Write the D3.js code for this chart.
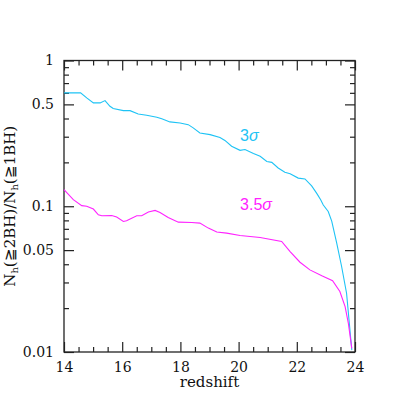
<!DOCTYPE html>
<html>
<head>
<meta charset="utf-8">
<script src="https://cdn.jsdelivr.net/npm/d3@7"></script>
<style>
body{margin:0;background:#fff}
svg{display:block}
.tick text{font-family:"DejaVu Serif",serif}
</style>
</head>
<body>
<svg id="canvas" width="415" height="415"></svg>
<script>
// data
let z3 = [14.0,14.57,14.78,15.01,15.24,15.41,15.58,15.69,16.04,16.27,16.55,16.84,17.19,17.36,17.64,17.99,18.27,18.44,18.67,19.02,19.36,19.53,19.76,20.05,20.22,20.51,20.74,20.97,21.14,21.36,21.59,21.77,22.05,22.28,22.51,22.68,22.82,22.91,23.08,23.2,23.37,23.54,23.71,23.89]
let f3 = [0.600,0.600,0.554,0.512,0.512,0.531,0.485,0.468,0.453,0.453,0.430,0.421,0.408,0.398,0.379,0.373,0.363,0.345,0.318,0.310,0.296,0.283,0.258,0.242,0.245,0.230,0.220,0.203,0.200,0.183,0.171,0.167,0.156,0.154,0.138,0.123,0.111,0.102,0.092,0.079,0.056,0.0386,0.0253,0.0103]

let z35 = [14.0,14.32,14.61,14.78,15.01,15.18,15.3,15.64,15.81,16.04,16.15,16.5,16.67,16.9,17.13,17.3,17.58,17.93,18.39,18.67,18.96,19.25,19.59,20.05,20.74,21.48,21.77,22.11,22.45,22.86,23.23,23.48,23.66,23.77,23.89]
let f35 = [0.130,0.111,0.101,0.100,0.0957,0.0874,0.0860,0.0864,0.0843,0.0786,0.0795,0.0860,0.0860,0.0912,0.0936,0.0907,0.0838,0.0778,0.0774,0.0766,0.0708,0.0665,0.0654,0.0630,0.0610,0.0573,0.0489,0.0413,0.0366,0.0333,0.0308,0.0260,0.0205,0.0158,0.0106]

let xMajor = [14,16,18,20,22,24]
let xMinor = [14.5,15,15.5,16.5,17,17.5,18.5,19,19.5,20.5,21,21.5,22.5,23,23.5]
let yMajor = [1,0.5,0.1,0.05,0.01]
let yLabels = ['1','0.5','0.1','0.05','0.01']
let yMinor = [0.9,0.8,0.7,0.6,0.4,0.3,0.2,0.09,0.08,0.07,0.06,0.04,0.03,0.02]

let margin = {left:64, right:60, top:60.5, bottom:63}
let W = 415, H = 415

let svg = d3.select('#canvas')

let x = d3.scaleLinear().domain([14,24]).range([margin.left, W-margin.right])
let y = d3.scaleLog().domain([0.01,1]).range([H-margin.bottom, margin.top])

let drawAxis = (axis, pos) => {
    let g = svg.append('g').attr('transform', pos).call(axis)
    g.select('.domain').remove()
    g.selectAll('line').attr('stroke','#222').attr('stroke-width',1.2)
    g.selectAll('text').attr('font-size',14).attr('fill','#111')
    return g
}

// bottom axis
drawAxis(d3.axisBottom(x).tickValues(xMajor).tickSizeInner(-10).tickPadding(10).tickFormat(d3.format('d')),
    `translate(0,${y(0.01)})`)
drawAxis(d3.axisBottom(x).tickValues(xMinor).tickSizeInner(-5).tickFormat(''),
    `translate(0,${y(0.01)})`)
// top axis
drawAxis(d3.axisTop(x).tickValues(xMajor).tickSizeInner(-10).tickFormat(''), `translate(0,${y(1)})`)
drawAxis(d3.axisTop(x).tickValues(xMinor).tickSizeInner(-5).tickFormat(''), `translate(0,${y(1)})`)
// left axis
drawAxis(d3.axisLeft(y).tickValues(yMajor).tickSizeInner(-10).tickPadding(10)
    .tickFormat((d,i)=>yLabels[i]), `translate(${x(14)},0)`)
drawAxis(d3.axisLeft(y).tickValues(yMinor).tickSizeInner(-5).tickFormat(''), `translate(${x(14)},0)`)
// right axis
drawAxis(d3.axisRight(y).tickValues(yMajor).tickSizeInner(-10).tickFormat(''), `translate(${x(24)},0)`)
drawAxis(d3.axisRight(y).tickValues(yMinor).tickSizeInner(-5).tickFormat(''), `translate(${x(24)},0)`)

// frame
svg.append('rect')
    .attr('x', x(14)).attr('y', y(1))
    .attr('width', x(24)-x(14)).attr('height', y(0.01)-y(1))
    .attr('fill','none').attr('stroke','#222').attr('stroke-width',1.3)

let line = d3.line().x(d=>x(d[0])).y(d=>y(d[1]))

svg.append('path')
    .datum(d3.zip(z3,f3))
    .attr('d', line)
    .attr('fill','none').attr('stroke','#1ec3f5').attr('stroke-width',1.1)

svg.append('path')
    .datum(d3.zip(z35,f35))
    .attr('d', line)
    .attr('fill','none').attr('stroke','#ff22ff').attr('stroke-width',1.1)

// curve labels
let sigLabel = (num, xv, yv, color) => {
    let t = svg.append('text')
        .attr('x', x(xv)).attr('y', y(yv))
        .attr('font-family','"Liberation Sans",Arial,sans-serif')
        .attr('font-size',16).attr('fill',color)
    t.append('tspan').text(num)
    t.append('tspan').attr('font-style','italic').text('σ')
}
sigLabel('3', 20.05, 0.280, '#1ec3f5')
sigLabel('3.5', 20.05, 0.094, '#ff22ff')

// axis titles
svg.append('text')
    .attr('x', (x(14)+x(24))/2).attr('y', 387)
    .attr('text-anchor','middle')
    .attr('font-family','"DejaVu Serif",serif').attr('font-size',15).attr('fill','#111')
    .text('redshift')

let yt = svg.append('text')
    .attr('transform', `translate(15,${(y(1)+y(0.01))/2}) rotate(-90)`)
    .attr('text-anchor','middle')
    .attr('font-family','"DejaVu Serif",serif').attr('font-size',15).attr('fill','#111')
yt.append('tspan').text('N')
yt.append('tspan').attr('font-size',10).attr('dy',3).text('h')
yt.append('tspan').attr('dy',-3).text('(≧2BH)/N')
yt.append('tspan').attr('font-size',10).attr('dy',3).text('h')
yt.append('tspan').attr('dy',-3).text('(≧1BH)')
</script>
</body>
</html>
